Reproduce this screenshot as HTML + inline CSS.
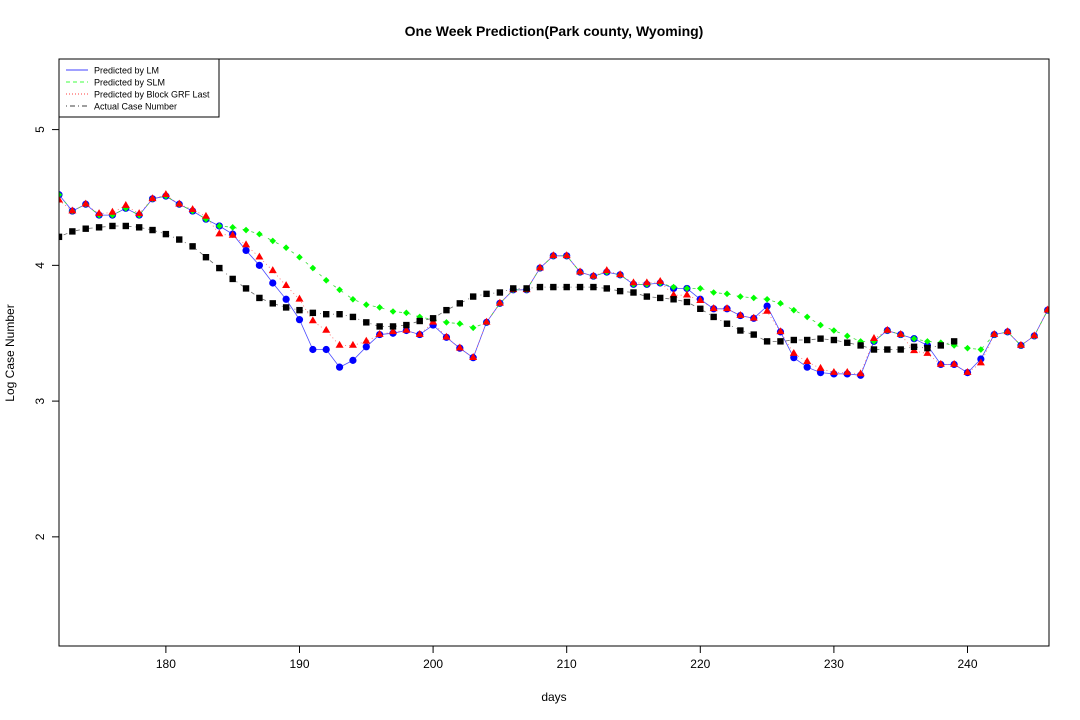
<!DOCTYPE html>
<html><head><meta charset="utf-8"><style>
html,body{margin:0;padding:0;background:#fff;}
svg{display:block;font-family:"Liberation Sans",sans-serif;}
</style></head><body>
<svg id="chart" width="1080" height="720" viewBox="0 0 1080 720" xmlns="http://www.w3.org/2000/svg">
<rect width="1080" height="720" fill="#fff"/>
<text x="554" y="36" text-anchor="middle" font-size="14" font-weight="bold">One Week Prediction(Park county, Wyoming)</text>
<text x="554" y="701" text-anchor="middle" font-size="12">days</text>
<text x="14" y="353" text-anchor="middle" font-size="12" transform="rotate(-90 14 353)">Log Case Number</text>
<g id="plot"></g>
<rect x="59" y="59" width="990" height="587" fill="none" stroke="#000" stroke-width="1"/>
<g>
<rect x="59" y="59" width="160" height="58" fill="#fff" stroke="#000" stroke-width="1"/>
<line x1="66" y1="70" x2="88" y2="70" stroke="#00f" stroke-width="0.8"/>
<line x1="66" y1="82" x2="88" y2="82" stroke="#0f0" stroke-width="0.8" stroke-dasharray="4,3"/>
<line x1="66" y1="94" x2="88" y2="94" stroke="#f00" stroke-width="0.8" stroke-dasharray="1,2"/>
<line x1="66" y1="106" x2="88" y2="106" stroke="#000" stroke-width="0.8" stroke-dasharray="1,3,5,3"/>
<text x="94" y="73.5" font-size="9">Predicted by LM</text>
<text x="94" y="85.5" font-size="9">Predicted by SLM</text>
<text x="94" y="97.5" font-size="9">Predicted by Block GRF Last</text>
<text x="94" y="109.5" font-size="9">Actual Case Number</text>
</g>
</svg>
<script>
const days = [];
for (let d = 172; d <= 246; d++) days.push(d);
const xTicks = [180,190,200,210,220,230,240];
const yTicks = [2,3,4,5];
const lmValues = [4.52,4.40,4.45,4.37,4.37,4.42,4.37,4.49,4.51,4.45,4.40,4.34,4.29,4.23,4.11,4.00,3.87,3.75,3.60,3.38,3.38,3.25,3.30,3.40,3.49,3.50,3.52,3.49,3.56,3.47,3.39,3.32,3.58,3.72,3.82,3.82,3.98,4.07,4.07,3.95,3.92,3.95,3.93,3.86,3.86,3.87,3.83,3.83,3.75,3.68,3.68,3.63,3.61,3.70,3.51,3.32,3.25,3.21,3.20,3.20,3.19,3.44,3.52,3.49,3.46,3.41,3.27,3.27,3.21,3.31,3.49,3.51,3.41,3.48,3.67];
const slmValues = [4.52,4.40,4.45,4.37,4.37,4.42,4.37,4.49,4.51,4.45,4.40,4.34,4.29,4.28,4.26,4.23,4.18,4.13,4.06,3.98,3.89,3.82,3.75,3.71,3.69,3.66,3.65,3.62,3.60,3.58,3.57,3.54,3.58,3.72,3.82,3.82,3.98,4.07,4.07,3.95,3.92,3.95,3.93,3.86,3.86,3.87,3.84,3.83,3.83,3.80,3.79,3.77,3.76,3.75,3.72,3.67,3.62,3.56,3.52,3.48,3.44,3.44,3.52,3.49,3.46,3.44,3.43,3.41,3.39,3.38,3.49,3.51,3.41,3.48,3.67];
const grfValues = [4.48,4.40,4.45,4.38,4.39,4.44,4.38,4.49,4.52,4.45,4.41,4.36,4.23,4.22,4.15,4.06,3.96,3.85,3.75,3.59,3.52,3.41,3.41,3.44,3.49,3.51,3.52,3.49,3.58,3.47,3.39,3.32,3.58,3.72,3.82,3.82,3.98,4.07,4.07,3.95,3.92,3.96,3.93,3.87,3.87,3.88,3.78,3.78,3.74,3.68,3.68,3.63,3.61,3.66,3.51,3.35,3.29,3.24,3.21,3.21,3.20,3.46,3.52,3.49,3.37,3.35,3.27,3.27,3.21,3.28,3.49,3.51,3.41,3.48,3.67];
const actualValues = [4.21,4.25,4.27,4.28,4.29,4.29,4.28,4.26,4.23,4.19,4.14,4.06,3.98,3.90,3.83,3.76,3.72,3.69,3.67,3.65,3.64,3.64,3.62,3.58,3.55,3.55,3.56,3.59,3.61,3.67,3.72,3.77,3.79,3.80,3.83,3.83,3.84,3.84,3.84,3.84,3.84,3.83,3.81,3.80,3.77,3.76,3.75,3.73,3.68,3.62,3.57,3.52,3.49,3.44,3.44,3.45,3.45,3.46,3.45,3.43,3.41,3.38,3.38,3.38,3.40,3.39,3.41,3.44];

const X0=59, X1=1049, Y0=646, Y1=59, DMIN=172, DMAX=246.1, VMIN=1.196, VMAX=5.52;
function xScale(d){ return X0 + (d-DMIN)/(DMAX-DMIN)*(X1-X0); }
function yScale(v){ return Y0 - (v-VMIN)/(VMAX-VMIN)*(Y0-Y1); }
const NS='http://www.w3.org/2000/svg';
const svg=document.getElementById('chart');
const plot=document.getElementById('plot');
function mk(tag, attrs, parent){ const e=document.createElementNS(NS,tag); for(const k in attrs) e.setAttribute(k,attrs[k]); (parent||plot).appendChild(e); return e; }

xTicks.forEach(t=>{
  const x=xScale(t);
  const tk=mk('line',{x1:x,y1:646,x2:x,y2:653,stroke:'#000'},svg);
  
  
  const lb=mk('text',{x:x,y:668,'text-anchor':'middle','font-size':'12'},svg);
  lb.textContent=t;
  
  
});
yTicks.forEach(t=>{
  const y=yScale(t);
  const tk=mk('line',{x1:52,y1:y,x2:59,y2:y,stroke:'#000'},svg);
  
  
  const lb=mk('text',{x:44,y:y,'text-anchor':'middle','font-size':'12',transform:'rotate(-90 44 '+y+')'},svg);
  lb.textContent=t;
  
  
});

const clip=mk('clipPath',{id:'pc'},svg);
mk('rect',{x:59,y:59,width:990,height:587},clip);
plot.setAttribute('clip-path','url(#pc)');

function pathFor(vals){ return vals.map((v,i)=>(i?'L':'M')+xScale(days[i]).toFixed(1)+' '+yScale(v).toFixed(1)).join(' '); }

const l1=mk('path',{d:pathFor(lmValues),fill:'none',stroke:'#4a4aff','stroke-width':0.8});


const l2=mk('path',{d:pathFor(slmValues),fill:'none',stroke:'#33dd33','stroke-width':0.8,'stroke-dasharray':'3,6'});


const l3=mk('path',{d:pathFor(grfValues),fill:'none',stroke:'#ff6666','stroke-width':0.8,'stroke-dasharray':'1,3'});


const l4=mk('path',{d:pathFor(actualValues),fill:'none',stroke:'#666','stroke-width':0.8,'stroke-dasharray':'1,4,4,4'});



lmValues.forEach((v,i)=>{
  const c=mk('circle',{cx:xScale(days[i]),cy:yScale(v),r:3.6,fill:'#00f'});
  
  
});
slmValues.forEach((v,i)=>{
  const x=xScale(days[i]), y=yScale(v);
  const p=mk('polygon',{points:`${x},${y-3.3} ${x+3.3},${y} ${x},${y+3.3} ${x-3.3},${y}`,fill:'#0f0'});
  
  
});
grfValues.forEach((v,i)=>{
  const x=xScale(days[i]), y=yScale(v);
  const p=mk('polygon',{points:`${x},${y-4.6} ${x+4},${y+2.3} ${x-4},${y+2.3}`,fill:'#f00'});
  
  
});
actualValues.forEach((v,i)=>{
  const x=xScale(days[i]), y=yScale(v);
  const r=mk('rect',{x:x-3.2,y:y-3.2,width:6.4,height:6.4,fill:'#000'});
  
  
});
</script>
</body></html>
